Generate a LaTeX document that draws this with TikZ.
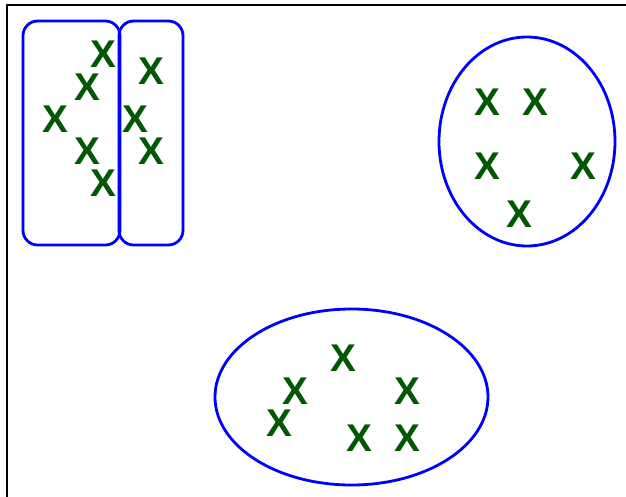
\documentclass[tikz,border=0pt]{standalone}
\usepackage{fontspec}
\setmainfont{Liberation Sans}[BoldFont=Liberation Sans Bold]
\usepackage{tikz}
\definecolor{xgreen}{RGB}{0,88,0}
\tikzset{
  pt/.style={color=xgreen,font=\fontsize{29}{31}\selectfont\bfseries,inner sep=0pt},
  grp/.style={line width=2.1pt,color=blue}
}
\begin{document}
\begin{tikzpicture}[line cap=round,line join=round,x=0.75pt,y=-0.75pt]
\useasboundingbox (0,0) rectangle (626,497);
% frame
\draw [line width=2pt,line cap=butt] (7,497)-- (7,5)-- (626,5);
% left groups
\draw [grp,rounded corners=11pt] (23,21) rectangle (120,245);
\draw [grp,rounded corners=11pt] (119,21) rectangle (183,245);
\node[pt] (l1) at (103,54) {X};
\node[pt] (l2) at (87,87) {X};
\node[pt] (l3) at (55,119) {X};
\node[pt] (l4) at (87,151) {X};
\node[pt] (l5) at (103,183) {X};
\node[pt] (m1) at (151,71) {X};
\node[pt] (m2) at (135,119) {X};
\node[pt] (m3) at (151,151) {X};
% right group
\draw [grp] (527,141.5) ellipse (88 and 104.5);
\node[pt] (r1) at (487,102) {X};
\node[pt] (r2) at (535,102) {X};
\node[pt] (r3) at (487,166) {X};
\node[pt] (r4) at (583,166) {X};
\node[pt] (r5) at (519,214) {X};
% bottom group
\draw [grp] (351.5,397) ellipse (136.5 and 88);
\node[pt] (b1) at (343,358) {X};
\node[pt] (b2) at (295,391) {X};
\node[pt] (b3) at (407,391) {X};
\node[pt] (b4) at (279,423) {X};
\node[pt] (b5) at (359,438) {X};
\node[pt] (b6) at (407,438) {X};
\end{tikzpicture}
\end{document}
